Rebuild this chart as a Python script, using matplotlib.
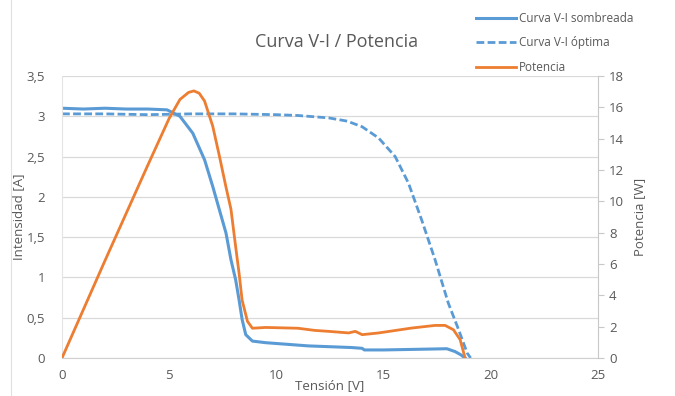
import matplotlib.pyplot as plt
from matplotlib.lines import Line2D

# Curva V-I sombreada (A)
v_somb = [0, 1, 2, 3, 4, 4.9, 5.5, 6.1, 6.65, 7.03, 7.34, 7.65, 7.88, 8.1, 8.26, 8.4, 8.57,
          8.88, 9.5, 10.5, 11.5, 12.5, 13.5, 14.0, 14.1, 15, 16, 17, 17.95, 18.33, 18.6, 18.8]
i_somb = [3.1, 3.09, 3.1, 3.09, 3.09, 3.08, 3.0, 2.79, 2.46, 2.13, 1.84, 1.55, 1.22, 0.97, 0.72,
          0.48, 0.29, 0.21, 0.19, 0.17, 0.15, 0.14, 0.13, 0.12, 0.1, 0.1, 0.105, 0.11, 0.115,
          0.08, 0.04, 0.0]

# Curva V-I óptima (A)
v_opt = [0, 2, 4, 6, 8, 10, 11, 12.44, 13.3, 14.0, 14.77, 15.54, 16.16, 16.78, 17.4, 18.02,
         18.5, 18.9, 19.06]
i_opt = [3.03, 3.03, 3.02, 3.03, 3.03, 3.02, 3.01, 2.98, 2.94, 2.87, 2.73, 2.5, 2.17, 1.71,
         1.22, 0.68, 0.35, 0.06, 0.0]

# Potencia (W)
v_pot = [0, 1, 2, 3, 4, 5, 5.5, 5.9, 6.15, 6.4, 6.65, 7.03, 7.34, 7.65, 7.88, 8.1, 8.26, 8.4,
         8.65, 8.88, 9.5, 11.0, 11.8, 12.44, 13.37, 13.68, 14.0, 14.77, 16.3, 17.4, 17.87,
         18.26, 18.57, 18.8]
p_pot = [0, 3.1, 6.2, 9.25, 12.3, 15.3, 16.5, 16.95, 17.05, 16.9, 16.4, 14.8, 12.9, 10.9, 9.5,
         7.1, 5.4, 3.7, 2.34, 1.9, 1.95, 1.9, 1.76, 1.7, 1.6, 1.7, 1.49, 1.6, 1.91, 2.08, 2.08,
         1.8, 1.17, 0.0]

x_ticks = [0, 5, 10, 15, 20, 25]
y_ticks = [0, 0.5, 1, 1.5, 2, 2.5, 3, 3.5]
y_ticklabels = ["0", "0,5", "1", "1,5", "2", "2,5", "3", "3,5"]
p_ticks = [0, 2, 4, 6, 8, 10, 12, 14, 16, 18]

blue = "#5B9BD5"
orange = "#ED7D31"
gray = "#595959"
dash = (0, (2.8, 1.2))
plt.rcParams['font.family'] = ['Open Sans', 'DejaVu Sans']

fig = plt.figure(figsize=(6.75, 3.96), dpi=100)
ax = fig.add_axes([62 / 675, 1 - 358 / 396, 536 / 675, 282 / 396])
ax2 = ax.twinx()

ax.plot(v_somb, i_somb, color=blue, lw=2.2)
ax.plot(v_opt, i_opt, color=blue, lw=2.0, ls=dash)
ax2.plot(v_pot, p_pot, color=orange, lw=2.0)

ax.set_xlim(0, 25)
ax.set_ylim(0, 3.5)
ax2.set_ylim(0, 18)
ax.set_xticks(x_ticks)
ax.set_yticks(y_ticks)
ax.set_yticklabels(y_ticklabels)
ax2.set_yticks(p_ticks)

ax.grid(axis='y', color="#d9d9d9", lw=0.9)
ax.set_axisbelow(True)
for a in (ax, ax2):
    for s in a.spines.values():
        s.set_visible(False)
ax.spines['bottom'].set_visible(True)
ax.spines['bottom'].set_color("#d0d0d0")
ax.spines['left'].set_visible(True)
ax.spines['left'].set_color("#e4e4e4")
ax2.spines['right'].set_visible(True)
ax2.spines['right'].set_color("#c8c8c8")

ax.tick_params(axis='both', length=0, colors=gray, labelsize=9.5, pad=8)
ax.tick_params(axis='y', pad=12)
ax2.tick_params(axis='y', length=4, color="#c8c8c8", colors=gray, labelsize=9.5, pad=4)

ax.set_xlabel("Tensión [V]", color=gray, fontsize=9.5, labelpad=-2)
ax.set_ylabel("Intensidad [A]", color=gray, fontsize=9.5, labelpad=1)
ax2.set_ylabel("Potencia [W]", color=gray, fontsize=9.5, labelpad=6)

fig.text(337 / 675, 1 - 42 / 396, "Curva V-I / Potencia", ha='center', va='center',
         color=gray, fontsize=13)

handles = [Line2D([], [], color=blue, lw=2.2),
           Line2D([], [], color=blue, lw=2.0, ls=dash),
           Line2D([], [], color=orange, lw=2.0)]
labels = ["Curva V-I sombreada", "Curva V-I óptima", "Potencia"]
fig.legend(handles, labels, loc='upper left', bbox_to_anchor=(468 / 675, 1 - 4 / 396),
           frameon=False, fontsize=8.5, labelcolor=gray, handlelength=3.4,
           handletextpad=0.2, labelspacing=0.95, borderaxespad=0.3)

fig.add_artist(Line2D([11 / 675, 11 / 675], [0, 1], color="#e0e0e0", lw=0.8))

fig.savefig("out.png", dpi=100)
